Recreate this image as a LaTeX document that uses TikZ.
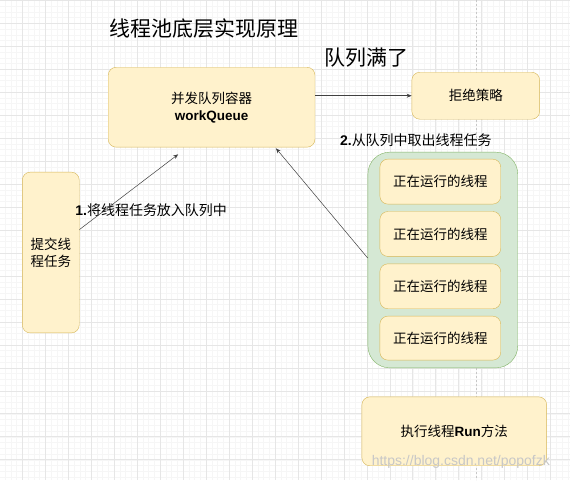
\documentclass[tikz,border=0pt]{standalone}
\usepackage{fontspec}
\setmainfont{Liberation Sans}
\newfontfamily\cjk{Noto Sans CJK SC}
\usetikzlibrary{arrows.meta,positioning}
\definecolor{boxfill}{HTML}{FFF2CC}
\definecolor{boxline}{HTML}{D6B656}
\definecolor{poolfill}{HTML}{D5E8D4}
\definecolor{poolline}{HTML}{82B366}
\definecolor{gridminor}{HTML}{F6F6F6}
\definecolor{gridmajor}{HTML}{E6E6E6}
\newcommand{\en}[1]{{\normalfont\bfseries #1}}

\tikzset{
  box/.style={draw=boxline,fill=boxfill,rounded corners=8pt,align=center,inner sep=0pt,
    font=\cjk\fontsize{13.5}{17}\selectfont},
  flow/.style={-{Stealth[length=5pt,width=4pt]},draw=black!75,line width=0.5pt},
  lbl/.style={font=\cjk\fontsize{14}{16}\selectfont},
  big/.style={font=\cjk\fontsize{21}{24}\selectfont},
}

\begin{document}
\begin{tikzpicture}[x=1pt,y=-1pt]

\fill[white] (0,0) rectangle (570,480);
\begin{scope}[shift={(22,0)}]
\draw[gridminor,line width=0.5pt,step=5.75pt] (-22,0) grid (548,480);
\draw[gridmajor,line width=0.7pt,step=23pt] (-22,0) grid (548,480);
\end{scope}
\draw[black!22,dash pattern=on 2pt off 2pt] (476,0) -- (476,480);
\useasboundingbox (0,0) rectangle (570,480);

\node[big] (title) at (204,28) {线程池底层实现原理};
\node[big] (full) at (367,57) {队列满了};

\node[box,minimum width=207pt,minimum height=80pt] (queue) at (211.5,107) {并发队列容器\\\en{workQueue}};
\node[box,minimum width=128pt,minimum height=47pt] (reject) at (476,95.5) {拒绝策略};

\node[lbl] (take) at (416,140) {\en{2.}从队列中取出线程任务};
\node[box,draw=poolline,fill=poolfill,rounded corners=22pt,minimum width=150pt,minimum height=216pt] (pool) at (443,260) {};
\node[box,minimum width=121pt,minimum height=45pt] (t1) at (440.5,181.5) {正在运行的线程};
\node[box,minimum width=121pt,minimum height=45pt,below=7pt of t1] (t2) {正在运行的线程};
\node[box,minimum width=121pt,minimum height=45pt,below=7pt of t2] (t3) {正在运行的线程};
\node[box,minimum width=121pt,minimum height=44pt,below=7pt of t3] (t4) {正在运行的线程};

\node[box,minimum width=57pt,minimum height=161pt] (submit) at (50.5,252.5) {提交线\\程任务};
\node[lbl] (put) at (151,210) {\en{1.}将线程任务放入队列中};

\node[box,minimum width=185pt,minimum height=69pt] (run) at (454.5,431.5) {执行线程\en{Run}方法};
\node[font=\fontsize{14}{16}\selectfont,text=black!22] (mark) at (461,462) {https://blog.csdn.net/popofzk};

\draw[flow] (queue.east |- reject.west) -- (reject.west);
\draw[flow] ([yshift=23pt]submit.east) -- ([xshift=-33.5pt,yshift=-7pt]queue.south);
\draw[flow] ([yshift=2pt]pool.west) -- ([xshift=64.5pt,yshift=-1pt]queue.south);

\end{tikzpicture}
\end{document}
